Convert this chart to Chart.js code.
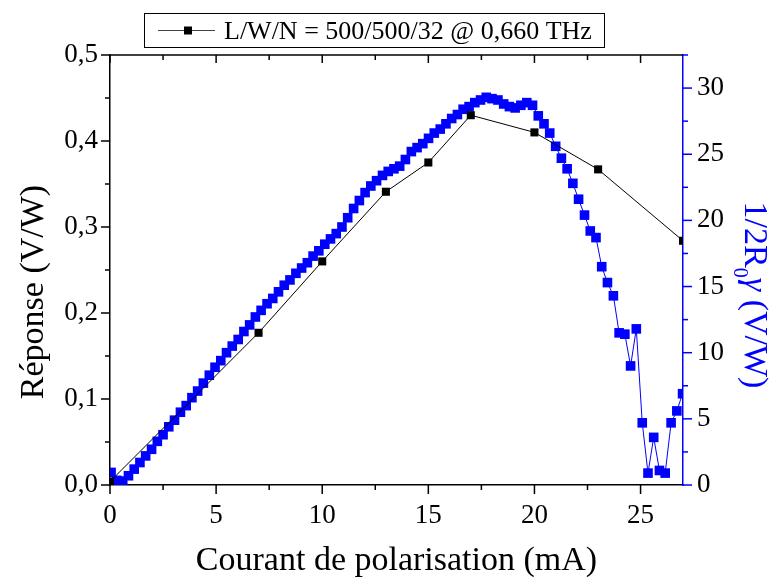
<!DOCTYPE html>
<html>
<head>
<meta charset="utf-8">
<title>Réponse - courant de polarisation</title>
<script src="https://cdn.jsdelivr.net/npm/chart.js@4.4.1/dist/chart.umd.min.js"></script>
<style>
  html, body { margin: 0; padding: 0; background: #fff; }
  #graphe { display: block; }
</style>
</head>
<body>
<canvas id="graphe" width="776" height="577"></canvas>
<script>
// ── DONNÉES ──────────────────────────────────────────────
// Série mesurée (noir, axe de gauche)
const courantMesure = [0, 7, 10, 13, 15, 17, 20, 23, 27];
const reponseMesure = [0.004, 0.177, 0.260, 0.341, 0.375, 0.430, 0.410, 0.367, 0.284];

// Série calculée 1/2R0γ (bleu, axe de droite)
const courantCalc = [
  0.05, 0.32, 0.60, 0.87, 1.14, 1.41, 1.68, 1.96, 2.23, 2.50,
  2.77, 3.04, 3.32, 3.59, 3.86, 4.13, 4.40, 4.68, 4.95, 5.22,
  5.49, 5.76, 6.04, 6.31, 6.58, 6.85, 7.12, 7.40, 7.67, 7.94,
  8.21, 8.48, 8.76, 9.03, 9.30, 9.57, 9.84, 10.12, 10.39, 10.66,
  10.93, 11.20, 11.48, 11.75, 12.02, 12.29, 12.56, 12.84, 13.11, 13.38,
  13.65, 13.92, 14.20, 14.47, 14.74, 15.01, 15.28, 15.56, 15.83, 16.10,
  16.37, 16.64, 16.92, 17.19, 17.46, 17.73, 18.00, 18.28, 18.55, 18.82,
  19.09, 19.36, 19.64, 19.91, 20.18, 20.45, 20.72, 21.00, 21.27, 21.54,
  21.81, 22.08, 22.36, 22.63, 22.90, 23.17, 23.44, 23.72, 23.99, 24.26,
  24.53, 24.80, 25.08, 25.35, 25.62, 25.89, 26.16, 26.44, 26.71, 26.98
];
const reponseCalc = [
  0.95, 0.35, 0.30, 0.70, 1.2, 1.7, 2.2, 2.7, 3.3, 3.8,
  4.4, 4.9, 5.5, 6.0, 6.6, 7.1, 7.7, 8.3, 8.9, 9.4,
  10.0, 10.5, 11.0, 11.6, 12.1, 12.7, 13.2, 13.7, 14.1, 14.6,
  15.1, 15.5, 16.0, 16.4, 16.8, 17.3, 17.7, 18.2, 18.6, 19.0,
  19.5, 20.2, 20.9, 21.5, 22.1, 22.6, 23.0, 23.4, 23.7, 23.9,
  24.1, 24.6, 25.2, 25.5, 25.8, 26.2, 26.6, 26.9, 27.3, 27.7,
  28.0, 28.4, 28.6, 28.9, 29.1, 29.3, 29.2, 29.1, 28.8, 28.6,
  28.5, 28.7, 28.9, 28.7, 27.9, 27.3, 26.6, 25.6, 24.7, 23.9,
  22.8, 21.6, 20.4, 19.2, 18.7, 16.5, 15.3, 14.3, 11.5, 11.4,
  9.0, 11.8, 4.7, 0.9, 3.6, 1.1, 0.9, 4.7, 5.6, 6.9
];

// Graduations
const ticksX  = [0, 5, 10, 15, 20, 25];
const minorX  = [2.5, 7.5, 12.5, 17.5, 22.5];
const ticksY  = [0, 0.1, 0.2, 0.3, 0.4, 0.5];
const minorY  = [0.05, 0.15, 0.25, 0.35, 0.45];
const ticksY2 = [0, 5, 10, 15, 20, 25, 30];
const minorY2 = [2.5, 7.5, 12.5, 17.5, 22.5, 27.5, 32.5];

const POLICE = '"Liberation Serif", "Times New Roman", serif';
const BLEU   = '#0000ff';

// ── CADRE, GRADUATIONS, LÉGENDE, TITRES ─────────────────────
const cadre = {
    id: 'cadre',
    afterDraw(chart) {
        const { ctx, chartArea: a, scales } = chart;
        const trait = (x1, y1, x2, y2) => {
            ctx.beginPath(); ctx.moveTo(x1, y1); ctx.lineTo(x2, y2); ctx.stroke();
        };
        ctx.save();
        ctx.lineWidth = 1.5;
        ctx.strokeStyle = '#000';
        trait(a.left, a.top, a.right, a.top);

        ticksX.forEach(v => {
            const p = scales.x.getPixelForValue(v);
            trait(p, a.bottom, p, a.bottom + 9);
            trait(p, a.top, p, a.top + 8);
        });
        minorX.forEach(v => {
            const p = scales.x.getPixelForValue(v);
            trait(p, a.bottom, p, a.bottom + 5);
            trait(p, a.top, p, a.top + 5);
        });
        ticksY.forEach(v => {
            const p = scales.y.getPixelForValue(v);
            trait(a.left, p, a.left - 9, p);
        });
        minorY.forEach(v => {
            const p = scales.y.getPixelForValue(v);
            trait(a.left, p, a.left - 5, p);
        });

        ctx.strokeStyle = BLEU;
        ticksY2.forEach(v => {
            const p = scales.y2.getPixelForValue(v);
            trait(a.right, p, a.right + 9, p);
        });
        minorY2.forEach(v => {
            const p = scales.y2.getPixelForValue(v);
            trait(a.right, p, a.right + 5, p);
        });

        // Légende
        ctx.lineWidth = 1;
        ctx.strokeStyle = '#000';
        ctx.strokeRect(144.5, 13.5, 460, 34);
        ctx.strokeStyle = '#444';
        trait(158, 30.5, 215, 30.5);
        ctx.fillStyle = '#000';
        ctx.fillRect(184, 26.5, 8, 8);
        ctx.font = '26px ' + POLICE;
        ctx.textAlign = 'left';
        ctx.textBaseline = 'alphabetic';
        ctx.fillText(chart.data.datasets[0].label, 224, 39);

        // Titre axe X
        ctx.font = '34px ' + POLICE;
        ctx.textAlign = 'center';
        ctx.fillText('Courant de polarisation (mA)', (a.left + a.right) / 2, 570);

        // Titre axe Y gauche
        ctx.save();
        ctx.translate(43, 292);
        ctx.rotate(-Math.PI / 2);
        ctx.fillText('Réponse (V/W)', 0, 0);
        ctx.restore();

        // Titre axe Y droit : 1/2R0γ (V/W)
        ctx.save();
        ctx.translate(745, 295);
        ctx.rotate(Math.PI / 2);
        ctx.fillStyle = BLEU;
        ctx.textAlign = 'left';
        const morceaux = [
            { t: '1/2R',   f: '34px ' + POLICE,          dy: 0 },
            { t: '0',      f: '20px ' + POLICE,          dy: 11 },
            { t: 'γ',      f: 'italic 34px ' + POLICE,   dy: 0 },
            { t: ' (V/W)', f: '34px ' + POLICE,          dy: 0 }
        ];
        let total = 0;
        morceaux.forEach(m => { ctx.font = m.f; m.w = ctx.measureText(m.t).width; total += m.w; });
        let u = -total / 2;
        morceaux.forEach(m => { ctx.font = m.f; ctx.fillText(m.t, u, m.dy); u += m.w; });
        ctx.restore();

        ctx.restore();
    }
};

// ── GRAPHIQUE ─────────────────────────────────────────────
const ctx = document.getElementById('graphe');
new Chart(ctx, {
    type: 'line',
    data: {
        datasets: [
            {
                label: 'L/W/N = 500/500/32 @ 0,660 THz',
                data: courantMesure.map((x, i) => ({ x: x, y: reponseMesure[i] })),
                yAxisID: 'y',
                borderColor: '#000',
                backgroundColor: '#000',
                borderWidth: 1,
                pointStyle: 'rect',
                pointRadius: 5.7,
                pointBorderWidth: 0,
                tension: 0
            },
            {
                label: '1/2R0γ',
                data: courantCalc.map((x, i) => ({ x: x, y: reponseCalc[i] })),
                yAxisID: 'y2',
                borderColor: BLEU,
                backgroundColor: BLEU,
                borderWidth: 1,
                pointStyle: 'rect',
                pointRadius: 6.8,
                pointBorderWidth: 0,
                tension: 0
            }
        ]
    },
    options: {
        responsive: false,
        animation: false,
        events: [],
        layout: { padding: { top: 55, left: 0, right: 0, bottom: 0 } },
        plugins: { legend: { display: false }, tooltip: { enabled: false } },
        scales: {
            x: {
                type: 'linear',
                min: 0, max: 27,
                afterBuildTicks: s => { s.ticks = ticksX.map(v => ({ value: v })); },
                afterFit: s => { s.height = 92; },
                grid: { drawOnChartArea: false, drawTicks: true, tickLength: 9, color: 'rgba(0,0,0,0)' },
                border: { display: true, color: '#000', width: 1.5 },
                ticks: {
                    color: '#000', padding: 6, maxRotation: 0, autoSkip: false,
                    font: { family: POLICE, size: 27 },
                    callback: v => String(v)
                }
            },
            y: {
                type: 'linear', position: 'left',
                min: 0, max: 0.5,
                afterBuildTicks: s => { s.ticks = ticksY.map(v => ({ value: v })); },
                afterFit: s => { s.width = 110; },
                grid: { drawOnChartArea: false, drawTicks: true, tickLength: 9, color: 'rgba(0,0,0,0)' },
                border: { display: true, color: '#000', width: 1.5 },
                ticks: {
                    color: '#000', padding: 3, autoSkip: false,
                    font: { family: POLICE, size: 27 },
                    callback: v => v.toFixed(1).replace('.', ',')
                }
            },
            y2: {
                type: 'linear', position: 'right',
                min: 0, max: 32.5,
                afterBuildTicks: s => { s.ticks = ticksY2.map(v => ({ value: v })); },
                afterFit: s => { s.width = 93; },
                grid: { drawOnChartArea: false, drawTicks: true, tickLength: 9, color: 'rgba(0,0,0,0)' },
                border: { display: true, color: BLEU, width: 1.5 },
                ticks: {
                    color: '#000', padding: 5, autoSkip: false,
                    font: { family: POLICE, size: 27 },
                    callback: v => String(v)
                }
            }
        }
    },
    plugins: [cadre]
});
</script>
</body>
</html>
